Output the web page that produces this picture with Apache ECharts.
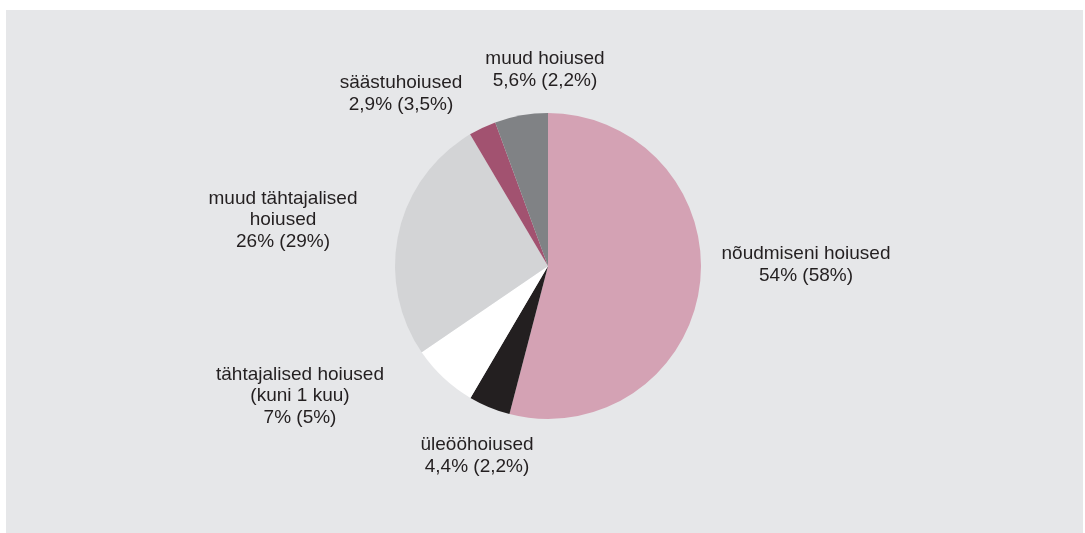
<!DOCTYPE html>
<html>
<head>
<meta charset="utf-8">
<script src="https://cdn.jsdelivr.net/npm/echarts@6/dist/echarts.min.js"></script>
<style>
  html, body { margin: 0; padding: 0; background: #ffffff; }
  #chart { width: 1085px; height: 533px; }
</style>
</head>
<body>
<div id="chart"></div>
<script>
// slices clockwise from 12 o'clock
const names = [
    'nõudmiseni hoiused',
    'üleööhoiused',
    'tähtajalised hoiused\n(kuni 1 kuu)',
    'muud tähtajalised\nhoiused',
    'säästuhoiused',
    'muud hoiused'
];
const shares = [54, 4.4, 7, 26, 2.9, 5.6];
const shareLabels = ['54%', '4,4%', '7%', '26%', '2,9%', '5,6%'];
const prevLabels = ['(58%)', '(2,2%)', '(5%)', '(29%)', '(3,5%)', '(2,2%)'];

const colors = ['#d4a2b4', '#231f20', '#ffffff', '#d3d4d6', '#a25270', '#808285'];
// label block centres (px)
const labelPos = [
    [806, 265],
    [477, 456],
    [300, 396],
    [283, 220],
    [401, 94],
    [545, 70]
];

const chart = echarts.init(document.getElementById('chart'));

const option = {
    backgroundColor: '#ffffff',
    animation: false,
    graphic: [{
        type: 'rect',
        shape: { x: 6, y: 10, width: 1077, height: 523 },
        style: { fill: '#e6e7e9' },
        z: -10
    }],
    series: [{
        type: 'pie',
        center: [548, 266],
        radius: [0, 153],
        startAngle: 90,
        clockwise: true,
        silent: true,
        data: shares.map((v, i) => ({
            name: names[i],
            value: v,
            itemStyle: { color: colors[i] }
        })),
        itemStyle: { borderWidth: 0 },
        label: {
            show: true,
            position: 'outside',
            color: '#231f20',
            fontFamily: '"Liberation Sans", Arial, sans-serif',
            fontSize: 19,
            lineHeight: 21.5,
            align: 'center',
            formatter: p => p.name + '\n' + shareLabels[p.dataIndex] + ' ' + prevLabels[p.dataIndex]
        },
        labelLine: { show: false },
        labelLayout: params => ({
            x: labelPos[params.dataIndex][0],
            y: labelPos[params.dataIndex][1],
            align: 'center',
            verticalAlign: 'middle'
        })
    }]
};

chart.setOption(option);
window.addEventListener('resize', () => chart.resize());
</script>
</body>
</html>
